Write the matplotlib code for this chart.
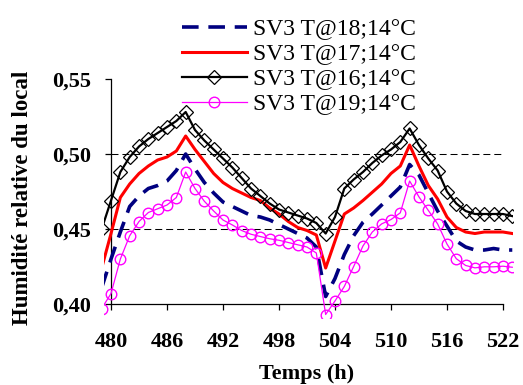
import matplotlib
matplotlib.use("Agg")
import matplotlib.pyplot as plt

# time (h), one value per hour
hours = list(range(479, 524))

# T@18;14 (navy, dashed)
hr_t18 = [0.411, 0.430, 0.448, 0.465, 0.472, 0.477, 0.479, 0.482, 0.489, 0.500,
          0.490, 0.481, 0.474, 0.468, 0.465, 0.462, 0.459, 0.458, 0.456, 0.453,
          0.450, 0.447, 0.444, 0.438, 0.405, 0.417, 0.433, 0.4455, 0.4545, 0.460,
          0.466, 0.472, 0.478, 0.493, 0.486, 0.474, 0.462, 0.452, 0.442, 0.438,
          0.436, 0.436, 0.437, 0.436, 0.436]
# T@17;14 (red)
hr_t17 = [0.424, 0.447, 0.471, 0.480, 0.487, 0.492, 0.496, 0.498, 0.502, 0.512,
          0.503, 0.495, 0.487, 0.481, 0.477, 0.474, 0.471, 0.469, 0.464, 0.460,
          0.455, 0.451, 0.449, 0.446, 0.424, 0.442, 0.460, 0.464, 0.469, 0.4745,
          0.480, 0.487, 0.492, 0.506, 0.492, 0.479, 0.470, 0.458, 0.451, 0.448,
          0.447, 0.448, 0.448, 0.448, 0.447]
# T@16;14 (black, diamonds)
hr_t16 = [0.450, 0.469, 0.488, 0.498, 0.505, 0.510, 0.514, 0.518, 0.522, 0.528,
          0.516, 0.509, 0.503, 0.497, 0.491, 0.484, 0.477, 0.472, 0.467, 0.463,
          0.461, 0.459, 0.457, 0.454, 0.447, 0.458, 0.477, 0.483, 0.488, 0.494,
          0.499, 0.503, 0.508, 0.517, 0.506, 0.497, 0.489, 0.475, 0.467, 0.462,
          0.460, 0.460, 0.460, 0.460, 0.4586]
# T@19;14 (magenta, circles)
hr_t19 = [0.397, 0.407, 0.430, 0.4455, 0.455, 0.461, 0.4635, 0.466, 0.471, 0.488,
          0.477, 0.4685, 0.462, 0.456, 0.4527, 0.449, 0.4465, 0.445, 0.4435, 0.4425,
          0.441, 0.4395, 0.438, 0.434, 0.393, 0.402, 0.4117, 0.425, 0.4387, 0.448,
          0.4534, 0.4563, 0.4608, 0.482, 0.4714, 0.4624, 0.4534, 0.440, 0.4302, 0.4257,
          0.4241, 0.4248, 0.4248, 0.4252, 0.4245]

labels = ["SV3 T@18;14°C", "SV3 T@17;14°C", "SV3 T@16;14°C", "SV3 T@19;14°C"]
xticks = list(range(480, 523, 6))
yticks = [0.40, 0.45, 0.50, 0.55]
ytick_labels = ["0,40", "0,45", "0,50", "0,55"]
grid_levels = [0.45, 0.50]

plt.rcParams['font.family'] = ['Liberation Serif', 'DejaVu Serif']

fig = plt.figure(figsize=(5.23, 3.85), dpi=100)
ax = fig.add_axes([0.1989, 0.1753, 0.7815, 0.639])

# dashed reference lines
ax.hlines(grid_levels, xticks[0], xticks[-1], colors='black', linewidth=0.75,
          linestyles=(0, (6.7, 3.8)), zorder=1)

ax.plot(hours, hr_t18, color='#000080', linewidth=2.6, dashes=(4.6, 2.7),
        label=labels[0], zorder=3)
ax.plot(hours, hr_t17, color='#ff0000', linewidth=2.2, label=labels[1], zorder=3)
ax.plot(hours, hr_t16, color='black', linewidth=1.6, marker='D', markersize=7.2,
        markerfacecolor='none', markeredgecolor='black', markeredgewidth=0.9,
        label=labels[2], zorder=4)
ax.plot(hours, hr_t19, color='#ff00ff', linewidth=0.9, marker='o', markersize=7.6,
        markerfacecolor='none', markeredgecolor='#ff00ff', markeredgewidth=1.0,
        label=labels[3], zorder=5)

ax.set_xlim(479.25, 523.05)
ax.set_ylim(0.391, 0.555)

# axis lines like the excel chart: crossing at 480 / 0,40
for s in ['top', 'right']:
    ax.spines[s].set_visible(False)
ax.spines['left'].set_position(('data', 480))
ax.spines['bottom'].set_position(('data', 0.40))
ax.spines['left'].set_bounds(0.40, 0.55)
ax.spines['bottom'].set_bounds(480, 522)
ax.spines['left'].set_linewidth(0.9)
ax.spines['bottom'].set_linewidth(0.9)

ax.set_xticks(xticks)
ax.set_yticks(yticks)
ax.set_yticklabels(ytick_labels)
ax.tick_params(axis='both', direction='out', length=4.5, width=0.9,
               labelsize=16)
ax.tick_params(axis='x', pad=15.4)
ax.tick_params(axis='y', pad=10)
for lab in ax.get_xticklabels() + ax.get_yticklabels():
    lab.set_fontweight('bold')

fig.text(23 / 523, 1 - 198 / 385, "Humidité relative du local", rotation=90,
         ha='center', va='center', fontsize=16.5, fontweight='bold')
fig.text(307 / 523, 1 - 379.5 / 385, "Temps (h)", ha='center', va='baseline',
         fontsize=16, fontweight='bold')

ax.legend(loc='upper left', bbox_to_anchor=(182 / 523, 1 - 18.6 / 385),
          bbox_transform=fig.transFigure, frameon=False, fontsize=17,
          borderpad=0, borderaxespad=0, handlelength=2.75, handletextpad=0.25,
          labelspacing=0.145)

fig.savefig("out.png", dpi=100)
